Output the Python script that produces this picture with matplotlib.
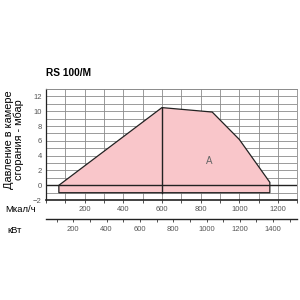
import numpy as np
import matplotlib
matplotlib.use('Agg')
import matplotlib.pyplot as plt
from matplotlib.ticker import MultipleLocator

plt.rcParams['font.family'] = ['Liberation Sans', 'DejaVu Sans']

# working field outline (Mcal/h, mbar)
field_x = [67, 67, 600, 860, 1000, 1158, 1158]
field_y = [-1, 0, 10.5, 9.9, 6.2, 0.4, -1]
split_x = 600
split_top = 10.5

mcal_ticks = [200, 400, 600, 800, 1000, 1200]
kw_ticks = [200, 400, 600, 800, 1000, 1200, 1400]
y_ticks = [-2, 0, 2, 4, 6, 8, 10, 12]

title = 'RS 100/M'
ylabel = 'Давление в камере\nсгорания - мбар'

fig = plt.figure(figsize=(3, 3), dpi=100)
ax = fig.add_axes([0.153, 0.333, 0.838, 0.37])

ax.fill(field_x, field_y, facecolor='#f9c6ca', edgecolor='#222222', linewidth=0.9, zorder=2)
ax.plot([split_x, split_x], [-1, split_top], color='#222222', linewidth=1.0, zorder=3)
ax.axhline(0, color='#222222', linewidth=1.0, zorder=3)
ax.text(845, 3.3, 'A', fontsize=7, color='#666666', ha='center', va='center', zorder=4)

ax.set_xlim(0, 1300)
ax.set_ylim(-2, 13)
ax.set_xticks(mcal_ticks)
ax.xaxis.set_minor_locator(MultipleLocator(100))
ax.set_yticks(y_ticks)
ax.yaxis.set_minor_locator(MultipleLocator(1))
ax.grid(True, which='both', color='#8a8a8a', linewidth=0.6, zorder=1)
ax.set_axisbelow(True)
ax.tick_params(axis='x', which='both', length=2.5, width=0.6, labelsize=5.5,
               labelcolor='#555555', pad=2, color='#333333', direction='out')
ax.tick_params(axis='y', which='both', length=0, labelsize=5.5, labelcolor='#555555', pad=3)
for s in ['top', 'right']:
    ax.spines[s].set_color('#8a8a8a')
    ax.spines[s].set_linewidth(0.6)
ax.spines['left'].set_color('#222222')
ax.spines['left'].set_linewidth(0.9)
ax.spines['bottom'].set_color('#222222')
ax.spines['bottom'].set_linewidth(1.2)

ax.text(0.0, 1.1, title, transform=ax.transAxes, fontsize=7.3, fontweight='bold', ha='left', va='bottom')
fig.text(0.047, 0.533, ylabel, rotation=90, fontsize=7.8, ha='center', va='center', linespacing=0.95)
fig.text(0.017, 0.3, 'Мкал/ч', fontsize=6.8, ha='left', va='center')
fig.text(0.023, 0.233, 'кВт', fontsize=6.8, ha='left', va='center')

# kW scale
ax2 = fig.add_axes([0.153, 0.269, 0.838, 0.001])
ax2.set_xlim(36, 1545)
ax2.set_xticks(kw_ticks)
ax2.xaxis.set_minor_locator(MultipleLocator(100))
ax2.set_yticks([])
for s in ['top', 'right', 'left']:
    ax2.spines[s].set_visible(False)
ax2.spines['bottom'].set_color('#222222')
ax2.spines['bottom'].set_linewidth(1.0)
ax2.tick_params(axis='x', which='both', length=2.5, width=0.6, labelsize=5.5,
                labelcolor='#555555', pad=2, color='#333333')
ax2.patch.set_visible(False)

fig.savefig('out.png', dpi=100)
